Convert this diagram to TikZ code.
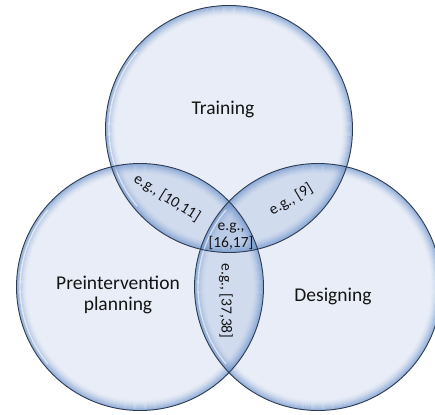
\documentclass[tikz,border=0pt]{standalone}
\usepackage{fontspec}
\setmainfont{Carlito}
\begin{document}
\begin{tikzpicture}[x=1pt,y=-1pt,
  big/.style={font=\fontsize{19.5}{21}\selectfont, align=center, inner sep=0pt, text=textcol},
  small/.style={font=\fontsize{15.5}{17}\selectfont, align=center, inner sep=0pt, text=textcol},
  rim/.style={draw=rimcol, line width=0.9pt},
  glow/.style={draw=glowcol, line width=1.1pt},
  shine/.style={draw=white, line width=1.3pt}]
\definecolor{basecol}{RGB}{232,237,247}
\definecolor{lenscol}{RGB}{208,219,238}
\definecolor{midcol}{RGB}{186,203,230}
\definecolor{glowcol}{RGB}{100,140,200}
\definecolor{rimcol}{RGB}{45,60,82}
\definecolor{textcol}{RGB}{20,20,20}
\def\R{123.5}
\useasboundingbox (0,0) rectangle (435,414);
\clip (0,0) rectangle (435,414);
\coordinate (T) at (229,129);
\coordinate (L) at (140,287);
\coordinate (D) at (318,287);
% base fills
\foreach \c in {T,L,D} \fill[basecol] (\c) circle (\R);
% pairwise overlaps
\begin{scope}
  \clip (T) circle (\R);
  \fill[lenscol] (L) circle (\R);
  \fill[lenscol] (D) circle (\R);
\end{scope}
\begin{scope}
  \clip (L) circle (\R);
  \fill[lenscol] (D) circle (\R);
  \clip (D) circle (\R);
  \fill[midcol] (T) circle (\R);
\end{scope}
% inner glow of each circle
\foreach \c in {T,L,D}{
  \begin{scope}
    \clip (\c) circle (\R);
    \foreach \k in {0,...,9}{
      \pgfmathsetmacro\op{0.6*(1-\k/10)^1.6}
      \draw[glow, draw opacity=\op] (\c) circle ({\R-\k-0.5});
    }
    \draw[shine, draw opacity=0.6] ([shift={(140:\R-3.5)}]\c) arc[start angle=140, end angle=220, radius=\R-3.5];
  \end{scope}
}
% outlines
\foreach \c in {T,L,D} \draw[rim] (\c) circle (\R);
% labels
\node[big] (tr) at (223,109) {Training};
\node[big] (pp) at (118,295) {Preintervention\\planning};
\node[big] (de) at (333,296) {Designing};
\node[small, rotate=-32] (ab) at (167,198) {e.g., [10,11]};
\node[small, rotate=31] (tb) at (291,200) {e.g., [9]};
\node[small] (ctr) at (231,236) {e.g.,\\{[16,17]}};
\node[small, rotate=-90] (lb) at (226,301) {e.g., [37,38]};
\end{tikzpicture}
\end{document}
